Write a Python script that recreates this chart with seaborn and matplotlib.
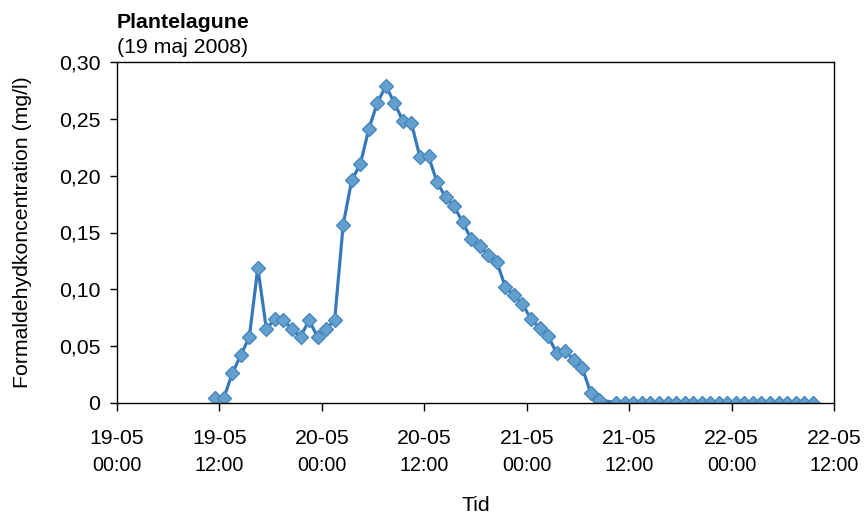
import pandas as pd
import seaborn as sns
import matplotlib.pyplot as plt

# Hours since 19-05 00:00 and formaldehyde concentration (mg/l)
hours = [11.5, 12.5, 13.5, 14.5, 15.5, 16.5, 17.5, 18.5, 19.5, 20.5,
         21.5, 22.5, 23.5, 24.5, 25.5, 26.5, 27.5, 28.5, 29.5, 30.5,
         31.5, 32.5, 33.5, 34.5, 35.5, 36.5, 37.5, 38.5, 39.5, 40.5,
         41.5, 42.5, 43.5, 44.5, 45.5, 46.5, 47.5, 48.5, 49.5, 50.5,
         51.5, 52.5, 53.5, 54.5, 55.5, 56.5,
         58.5, 59.5, 60.5, 61.5, 62.5, 63.5, 64.5, 65.5, 66.5, 67.5,
         68.5, 69.5, 70.5, 71.5, 72.5, 73.5, 74.5, 75.5, 76.5, 77.5,
         78.5, 79.5, 80.5, 81.5]
conc = [0.004, 0.004, 0.026, 0.042, 0.058, 0.119, 0.065, 0.074, 0.073, 0.065,
        0.058, 0.073, 0.058, 0.065, 0.073, 0.157, 0.196, 0.210, 0.241, 0.264,
        0.279, 0.264, 0.248, 0.246, 0.216, 0.217, 0.194, 0.181, 0.173, 0.159,
        0.144, 0.138, 0.130, 0.124, 0.102, 0.095, 0.087, 0.074, 0.066, 0.059,
        0.044, 0.046, 0.038, 0.031, 0.009, 0.003,
        0, 0, 0, 0, 0, 0, 0, 0, 0, 0,
        0, 0, 0, 0, 0, 0, 0, 0, 0, 0,
        0, 0, 0, 0]

tick_hours = [0, 12, 24, 36, 48, 60, 72, 84]
tick_dates = ['19-05', '19-05', '20-05', '20-05', '21-05', '21-05', '22-05', '22-05']
tick_times = ['00:00', '12:00', '00:00', '12:00', '00:00', '12:00', '00:00', '12:00']
y_ticks = [0, 0.05, 0.10, 0.15, 0.20, 0.25, 0.30]
y_labels = ['0', '0,05', '0,10', '0,15', '0,20', '0,25', '0,30']

df = pd.DataFrame({'Tid': hours, 'Formaldehyd': conc})

sns.set_theme(style="ticks")
plt.rcParams['font.family'] = ['Liberation Sans', 'DejaVu Sans']
plt.rcParams['text.color'] = 'black'

fig = plt.figure(figsize=(8.64, 5.15), dpi=100)
ax = fig.add_axes([117/864, 1 - 403/515, 717/864, 341/515])

sns.lineplot(data=df, x='Tid', y='Formaldehyd', ax=ax,
             color='#3778b9', linewidth=2.3,
             marker='D', markersize=7.6,
             markerfacecolor='#64a0cd', markeredgecolor='#4687be',
             markeredgewidth=1.0)

ax.set_xlim(0, 84)
ax.set_ylim(0, 0.30)
ax.set_yticks(y_ticks)
ax.set_yticklabels(y_labels)
ax.set_xticks(tick_hours)
ax.set_xticklabels(tick_dates)

for sp in ax.spines.values():
    sp.set_color('black')
    sp.set_linewidth(1.0)

ax.tick_params(axis='x', direction='out', length=6, width=1, pad=13,
               labelsize=15.3, colors='black')
ax.tick_params(axis='y', direction='out', length=5, width=1, pad=7,
               labelsize=15.3, colors='black')

# second line of the x tick labels (times)
sec = ax.secondary_xaxis('bottom')
sec.set_xticks(tick_hours)
sec.set_xticklabels(tick_times)
sec.tick_params(axis='x', length=0, pad=38, labelsize=14.2, colors='black')
sec.spines['bottom'].set_visible(False)

ax.set_xlabel('Tid', fontsize=15.3, color='black')
ax.xaxis.set_label_coords(0.5, -0.272)
ax.set_ylabel('Formaldehydkoncentration (mg/l)', fontsize=15.3, color='black')
ax.yaxis.set_label_coords(-0.119, 0.5)

fig.text(117/864, 1 - 28/515, 'Plantelagune', fontsize=15.3,
         fontweight='bold', ha='left', va='baseline', color='black')
fig.text(117/864, 1 - 53/515, '(19 maj 2008)', fontsize=15.3,
         ha='left', va='baseline', color='black')

fig.savefig('out.png', dpi=100)
